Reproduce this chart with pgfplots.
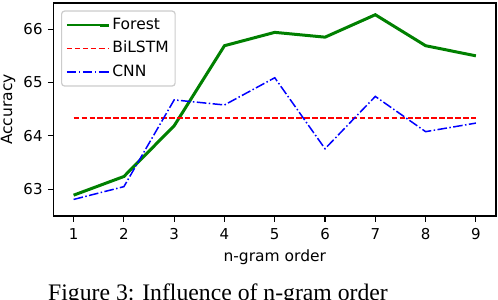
\documentclass[border=0pt]{standalone}
\usepackage{pgfplots}
\pgfplotsset{compat=1.18}
\usepackage{fontspec}
\setmainfont{DejaVu Sans}
\newfontfamily\capfont{Liberation Serif}
\definecolor{mplgreen}{rgb}{0,0.5,0}
\definecolor{mplred}{rgb}{1,0,0}
\definecolor{mplblue}{rgb}{0,0,1}
\begin{document}
\begin{tikzpicture}
\begin{axis}[
  scale only axis,
  width=442.5bp, height=213bp,
  xmin=0.6, xmax=9.4, ymin=62.5, ymax=66.49,
  xtick={1,2,3,4,5,6,7,8,9},
  ytick={63,64,65,66},
  tick pos=left,
  tick align=outside,
  major tick length=5.5bp,
  every tick/.style={black, line width=1.1bp},
  axis line style={black, line width=1.1bp},
  /pgf/number format/assume math mode=true,
  tick label style={font=\fontsize{15bp}{18bp}\selectfont, inner sep=0pt},
  xticklabel style={yshift=-7bp},
  yticklabel style={xshift=-5.25bp},
  label style={font=\fontsize{15.5bp}{18bp}\selectfont},
  xlabel={n-gram order},
  ylabel={Accuracy},
  xlabel style={at={(axis description cs:0.5,-0.1925)}, anchor=center},
  ylabel style={at={(axis description cs:-0.1028,0.5)}, anchor=center},
  legend cell align=left,
  legend image code/.code={\draw[line width=1.5bp,#1] (0bp,0bp) -- (33bp,0bp); \path (33bp,0bp) -- (42bp,0bp);},
  legend style={at={(axis description cs:0.017,0.965)}, anchor=north west,
    draw=black!20, line width=1.2bp, rounded corners=3bp, fill=white,
    font=\fontsize{15.5bp}{18bp}\selectfont,
    inner xsep=4.5bp, inner ysep=5bp, row sep=5.5bp,
    nodes={inner sep=2bp, text height=11bp, text depth=3bp}},
]
\coordinate (SW) at (rel axis cs:0,0);
\addplot[color=mplgreen, line width=3bp] coordinates {
(1,62.89) (2,63.24) (3,64.19) (4,65.69) (5,65.94) (6,65.85) (7,66.27) (8,65.69) (9,65.50)};
\addlegendentry{Forest}
\addplot[color=mplred, line width=1.5bp, dash pattern=on 5.55bp off 2.4bp] coordinates {
(1,64.34) (2,64.34) (3,64.34) (4,64.34) (5,64.34) (6,64.34) (7,64.34) (8,64.34) (9,64.34)};
\addlegendentry{BiLSTM}
\addplot[color=mplblue, line width=1.5bp, dash pattern=on 9.6bp off 2.4bp on 1.5bp off 2.4bp] coordinates {
(1,62.81) (2,63.05) (3,64.675) (4,64.58) (5,65.09) (6,63.76) (7,64.74) (8,64.08) (9,64.24)};
\addlegendentry{CNN}
\end{axis}
\node[anchor=base, font=\capfont\fontsize{23.7bp}{28bp}\selectfont, inner sep=0pt] at ([xshift=164.5bp, yshift=-84bp]SW) {Figure 3: Influence of n-gram order};
\pgfresetboundingbox
\useasboundingbox ([xshift=-53.5bp,yshift=-84bp]SW) rectangle ++(498bp,300bp);
\end{tikzpicture}
\end{document}
